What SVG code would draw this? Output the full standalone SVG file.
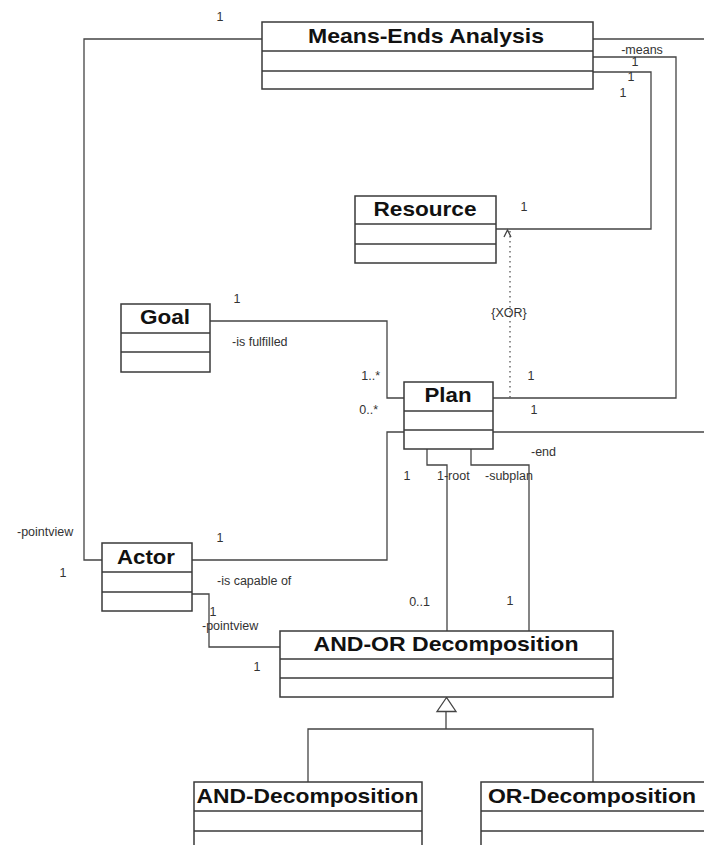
<svg xmlns="http://www.w3.org/2000/svg" width="704" height="845" viewBox="0 0 704 845">
<style>
.box{fill:#fff;stroke:#3a3a3a;stroke-width:1.5}
.div{stroke:#3a3a3a;stroke-width:1.5}
.t{font-family:"Liberation Sans",Arial,sans-serif;font-weight:bold;font-size:21px;fill:#111;text-anchor:middle}
.l{font-family:"Liberation Sans",Arial,sans-serif;font-size:12.5px;fill:#333}
.c{fill:none;stroke:#444;stroke-width:1.3}
</style>
<rect width="704" height="845" fill="#fff"/>
<g id="connectors">
<polyline class="c" points="262,39 84,39 84,560 102,560"/>
<polyline class="c" points="593,39 704,39"/>
<polyline class="c" points="593,57 676,57 676,398 493,398"/>
<polyline class="c" points="593,72 651,72 651,229 496,229"/>
<polyline class="c" points="210,321 387,321 387,398 404,398"/>
<polyline class="c" points="192,560 387,560 387,432 404,432"/>
<polyline class="c" points="493,432 704,432"/>
<polyline class="c" points="427,449 427,465 447,465 447,631"/>
<polyline class="c" points="471,449 471,465 529,465 529,631"/>
<polyline class="c" points="192,594 209,594 209,647 280,647"/>
<line x1="510" y1="231" x2="510" y2="398" stroke="#555" stroke-width="1.3" stroke-dasharray="1.5,3.5"/>
<polyline class="c" points="504,237 507.5,230 511,237"/>
<polygon points="446.5,697.5 437,711.5 456,711.5" fill="#fff" stroke="#444" stroke-width="1.3"/>
<polyline class="c" points="446,711.5 446,729"/>
<polyline class="c" points="308,782 308,729 593,729 593,782"/>
</g>
<g id="mea">
<rect class="box" x="262" y="22" width="331" height="67"/>
<line class="div" x1="262" y1="51" x2="593" y2="51"/>
<line class="div" x1="262" y1="71" x2="593" y2="71"/>
<text class="t" x="426" y="43" textLength="236" lengthAdjust="spacingAndGlyphs">Means-Ends Analysis</text>
</g>
<g id="resource">
<rect class="box" x="355" y="196" width="141" height="67"/>
<line class="div" x1="355" y1="224" x2="496" y2="224"/>
<line class="div" x1="355" y1="244" x2="496" y2="244"/>
<text class="t" x="425" y="216" textLength="103" lengthAdjust="spacingAndGlyphs">Resource</text>
</g>
<g id="goal">
<rect class="box" x="121" y="304" width="89" height="68"/>
<line class="div" x1="121" y1="333" x2="210" y2="333"/>
<line class="div" x1="121" y1="352" x2="210" y2="352"/>
<text class="t" x="165" y="324" textLength="50" lengthAdjust="spacingAndGlyphs">Goal</text>
</g>
<g id="plan">
<rect class="box" x="404" y="382" width="89" height="67"/>
<line class="div" x1="404" y1="411" x2="493" y2="411"/>
<line class="div" x1="404" y1="430" x2="493" y2="430"/>
<text class="t" x="448" y="401.5" textLength="47" lengthAdjust="spacingAndGlyphs">Plan</text>
</g>
<g id="actor">
<rect class="box" x="102" y="543" width="90" height="68"/>
<line class="div" x1="102" y1="572" x2="192" y2="572"/>
<line class="div" x1="102" y1="592" x2="192" y2="592"/>
<text class="t" x="146" y="564" textLength="58" lengthAdjust="spacingAndGlyphs">Actor</text>
</g>
<g id="andor">
<rect class="box" x="280" y="631" width="333" height="66"/>
<line class="div" x1="280" y1="659" x2="613" y2="659"/>
<line class="div" x1="280" y1="678" x2="613" y2="678"/>
<text class="t" x="446" y="651" textLength="265" lengthAdjust="spacingAndGlyphs">AND-OR Decomposition</text>
</g>
<g id="anddec">
<rect class="box" x="194" y="782" width="228" height="80"/>
<line class="div" x1="194" y1="811" x2="422" y2="811"/>
<line class="div" x1="194" y1="831" x2="422" y2="831"/>
<text class="t" x="307.5" y="803" textLength="222" lengthAdjust="spacingAndGlyphs">AND-Decomposition</text>
</g>
<g id="ordec">
<rect class="box" x="481" y="782" width="240" height="80"/>
<line class="div" x1="481" y1="811" x2="721" y2="811"/>
<line class="div" x1="481" y1="831" x2="721" y2="831"/>
<text class="t" x="592" y="803" textLength="208" lengthAdjust="spacingAndGlyphs">OR-Decomposition</text>
</g>
<g id="labels">
<text class="l" x="220" y="21" text-anchor="middle">1</text>
<text class="l" x="642" y="54" text-anchor="middle">-means</text>
<text class="l" x="635" y="66" text-anchor="middle">1</text>
<text class="l" x="631" y="81" text-anchor="middle">1</text>
<text class="l" x="623" y="97" text-anchor="middle">1</text>
<text class="l" x="524" y="211" text-anchor="middle">1</text>
<text class="l" x="509" y="317" text-anchor="middle">{XOR}</text>
<text class="l" x="237" y="303" text-anchor="middle">1</text>
<text class="l" x="232" y="346">-is fulfilled</text>
<text class="l" x="380" y="380" text-anchor="end">1..*</text>
<text class="l" x="378" y="414" text-anchor="end">0..*</text>
<text class="l" x="531" y="380" text-anchor="middle">1</text>
<text class="l" x="534" y="414" text-anchor="middle">1</text>
<text class="l" x="531" y="456">-end</text>
<text class="l" x="407" y="480" text-anchor="middle">1</text>
<text class="l" x="437" y="480">1-root</text>
<text class="l" x="485" y="480">-subplan</text>
<text class="l" x="17" y="536">-pointview</text>
<text class="l" x="63" y="577" text-anchor="middle">1</text>
<text class="l" x="220" y="542" text-anchor="middle">1</text>
<text class="l" x="217" y="585">-is capable of</text>
<text class="l" x="213" y="616" text-anchor="middle">1</text>
<text class="l" x="202" y="630">-pointview</text>
<text class="l" x="257" y="671" text-anchor="middle">1</text>
<text class="l" x="430" y="606" text-anchor="end">0..1</text>
<text class="l" x="510" y="605" text-anchor="middle">1</text>
</g>
</svg>
